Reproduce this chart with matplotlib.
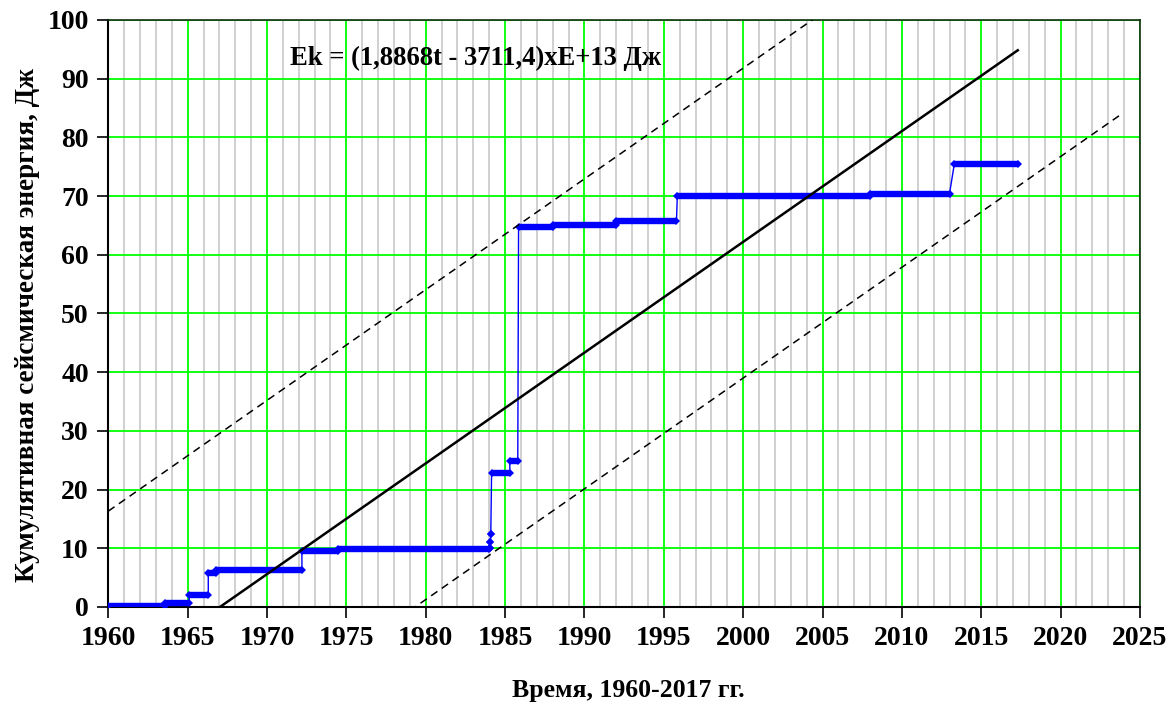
import numpy as np
import matplotlib.pyplot as plt
from matplotlib.ticker import MultipleLocator

# ступени кумулятивной энергии: начало, конец, уровень (x1E+13 Дж)
level_start = [1960.0, 1963.6, 1965.1, 1966.3, 1966.8, 1972.2, 1974.5,
               1984.05, 1984.08, 1984.1, 1984.15, 1985.3, 1985.85,
               1988.0, 1992.0, 1995.85, 2008.0, 2013.3]
level_end = [1963.6, 1965.1, 1966.3, 1966.8, 1972.2, 1974.5, 1984.0,
             1984.05, 1984.08, 1984.1, 1985.3, 1985.8, 1988.0,
             1992.0, 1995.8, 2008.0, 2013.0, 2017.3]
level_value = [0.1, 0.6, 2.0, 5.8, 6.3, 9.5, 9.8,
               10.0, 11.0, 12.4, 22.9, 24.8, 64.7,
               65.1, 65.8, 70.0, 70.4, 75.4]

# линейный тренд Ek = (a*t + b) x E+13
trend_a = 1.8868
trend_b = -3711.4
trend_t = [1967.0, 2017.3]
upper_shift = 29.6
upper_t = [1960.0, 2004.6]
lower_shift = -23.2
lower_t = [1979.0, 2023.75]

x_ticks = list(range(1960, 2026, 5))
y_ticks = list(range(0, 101, 10))

plt.rcParams['font.family'] = ['Liberation Serif', 'DejaVu Serif']
plt.rcParams['font.weight'] = 'bold'

fig = plt.figure(figsize=(11.68, 7.04), dpi=100)
ax = fig.add_axes([0.0927, 0.1378, 0.976 - 0.0927, 0.9716 - 0.1378])

# сетка: серые линии каждый год, зелёные — основные
ax.xaxis.set_minor_locator(MultipleLocator(1))
ax.grid(which='minor', axis='x', color='#d0d0d0', lw=1.4, zorder=0)
ax.grid(which='major', axis='both', color='#00ff00', lw=1.3, zorder=1)

# ломаная кумулятивной энергии
px, py = [], []
for s, e, v in zip(level_start, level_end, level_value):
    px += [s, e]
    py += [v, v]
ax.plot(px, py, color='#0000ff', lw=1.0, zorder=3)
ax.hlines(level_value, level_start, level_end, color='#0000ff',
          lw=4.6, zorder=3)
ax.plot(level_start + level_end, level_value + level_value, 'D',
        color='#0000ff', ms=4.5, mew=0, zorder=3)

# тренд и границы
tt = np.array(trend_t)
ax.plot(tt, trend_a * tt + trend_b, color='black', lw=1.8, zorder=4)
tu = np.array(upper_t)
ax.plot(tu, trend_a * tu + trend_b + upper_shift, color='black', lw=1.1,
        ls=(0, (5, 3.5)), zorder=4)
tl = np.array(lower_t)
ax.plot(tl, trend_a * tl + trend_b + lower_shift, color='black', lw=1.1,
        ls=(0, (5, 3.5)), zorder=4)

ax.text(1971.45, 93.5, 'Ek = (1,8868t - 3711,4)xE+13 Дж', fontsize=19.2,
        fontweight='bold', ha='left', va='center', zorder=5)

ax.set_xlim(1960, 2025)
ax.set_ylim(0, 100)
ax.set_xticks(x_ticks)
ax.set_yticks(y_ticks)
ax.tick_params(axis='both', which='major', labelsize=20, length=8,
               width=1.2, direction='out', pad=6)
ax.tick_params(axis='x', which='minor', length=0)
for lab in ax.get_xticklabels() + ax.get_yticklabels():
    lab.set_fontweight('bold')

for side in ['left', 'bottom']:
    ax.spines[side].set_linewidth(1.5)
    ax.spines[side].set_color('black')
for side in ['top', 'right']:
    ax.spines[side].set_linewidth(1.2)
    ax.spines[side].set_color('#103010')

ax.set_xlabel('Время, 1960-2017 гг.', fontsize=18.5, fontweight='bold')
ax.set_ylabel('Кумулятивная сейсмическая энергия, Дж', fontsize=19.5,
              fontweight='bold')
ax.xaxis.set_label_coords(0.504, -0.122)
ax.yaxis.set_label_coords(-0.066, 0.48)

fig.savefig('out.png', dpi=100)
